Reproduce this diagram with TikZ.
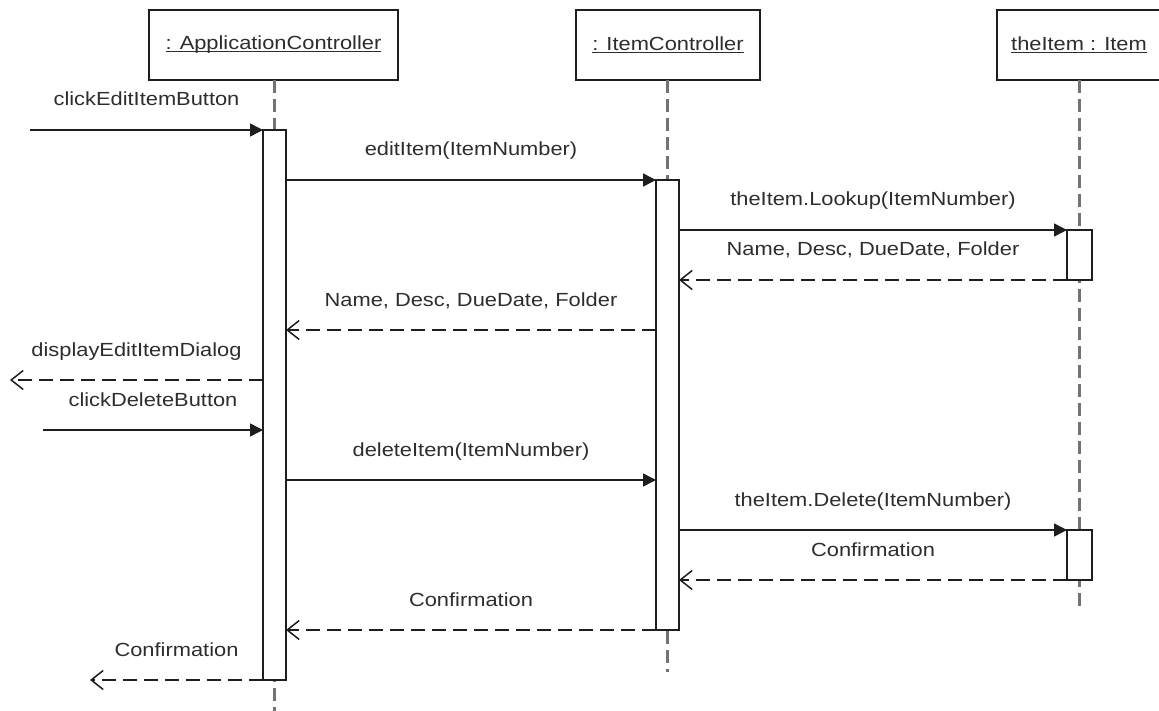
\documentclass[tikz,border=0pt]{standalone}
\usepackage{fontspec}
\setmainfont{Liberation Sans}[FakeStretch=1.15]
\usetikzlibrary{arrows.meta}

\definecolor{ink}{RGB}{30,30,30}
\definecolor{txt}{RGB}{45,45,45}
\definecolor{life}{RGB}{115,115,115}

% underlined object name with a heavier rule
\newcommand\objname[1]{\leavevmode\setbox0\hbox{#1}\rlap{\rule[-2.4pt]{\wd0}{1.3pt}}\box0}

\tikzset{
  head/.style={draw=ink, line width=2pt, fill=white, inner sep=0pt, outer sep=0pt,
               text=txt, font=\fontsize{19}{22}\selectfont},
  act/.style={draw=ink, line width=1.6pt, fill=white, inner sep=0pt, outer sep=0pt,
              minimum width=23pt},
  lifeline/.style={draw=life, line width=2.2pt, dash pattern=on 13pt off 6pt},
  call/.style={draw=ink, line width=1.5pt, -{Triangle[length=13pt,width=13pt]}},
  reply/.style={draw=ink, line width=1.5pt, dash pattern=on 14pt off 7pt,
                -{Straight Barb[length=12pt,width=19pt,line width=1.5pt]}},
  lab/.style={text=txt, font=\fontsize{19}{22}\selectfont, inner sep=0pt,
              anchor=base, yshift=24pt}
}

\begin{document}
\begin{tikzpicture}[x=1pt,y=-1pt]
\useasboundingbox (0,0) rectangle (1159,711);
\begin{scope}
\clip (0,0) rectangle (1159,711);

% object headers
\node[head, minimum width=249pt, minimum height=70pt] (app) at (273.5,45) {\objname{: ApplicationController}};
\node[head, minimum width=184pt, minimum height=70pt] (ic) at (668,45) {\objname{: ItemController}};
\node[head, minimum width=164pt, minimum height=70pt] (it) at (1079,45) {\objname{theItem : Item}};

% lifeline ends
\coordinate (appEnd) at (274.5,711);
\coordinate (icEnd) at (667.5,672);
\coordinate (itEnd) at (1079.5,610);

% lifelines
\draw[lifeline] (app.south -| appEnd) -- (appEnd);
\draw[lifeline] (ic.south -| icEnd) -- (icEnd);
\draw[lifeline] (it.south -| itEnd) -- (itEnd);

% activation bars
\node[act, minimum height=550pt] (appAct) at (274.5,405) {};
\node[act, minimum height=450pt] (icAct) at (667.5,405) {};
\node[act, minimum width=25pt, minimum height=50pt] (itA) at (1079.5,255) {};
\node[act, minimum width=25pt, minimum height=50pt] (itB) at (1079.5,555) {};

% message levels and free ends
\coordinate (inEdit) at (30,130);
\coordinate (y330) at (0,330);
\coordinate (outDlg) at (10,380);
\coordinate (inDel) at (43,430);
\coordinate (y480) at (0,480);
\coordinate (outConf) at (90,680);

% messages
\draw[call] (inEdit) -- node[lab, midway] {clickEditItemButton} (appAct.north west);
\draw[call] (appAct.east |- icAct.north) -- node[lab, midway] {editItem(ItemNumber)} (icAct.north west);
\draw[call] (icAct.east |- itA.north) -- node[lab, midway] {theItem.Lookup(ItemNumber)} (itA.north west);
\draw[reply] (itA.south west) -- node[lab, midway] {Name, Desc, DueDate, Folder} (icAct.east |- itA.south);
\draw[reply] (icAct.west |- y330) -- node[lab, midway] {Name, Desc, DueDate, Folder} (appAct.east |- y330);
\draw[reply] (appAct.west |- outDlg) -- node[lab, midway] {displayEditItemDialog} (outDlg);
\draw[call] (inDel) -- node[lab, midway] {clickDeleteButton} (appAct.west |- inDel);
\draw[call] (appAct.east |- y480) -- node[lab, midway] {deleteItem(ItemNumber)} (icAct.west |- y480);
\draw[call] (icAct.east |- itB.north) -- node[lab, midway] {theItem.Delete(ItemNumber)} (itB.north west);
\draw[reply] (itB.south west) -- node[lab, midway] {Confirmation} (icAct.east |- itB.south);
\draw[reply] (icAct.south west) -- node[lab, midway] {Confirmation} (appAct.east |- icAct.south);
\draw[reply] (appAct.south west) -- node[lab, midway] {Confirmation} (outConf);
\end{scope}
\end{tikzpicture}
\end{document}
